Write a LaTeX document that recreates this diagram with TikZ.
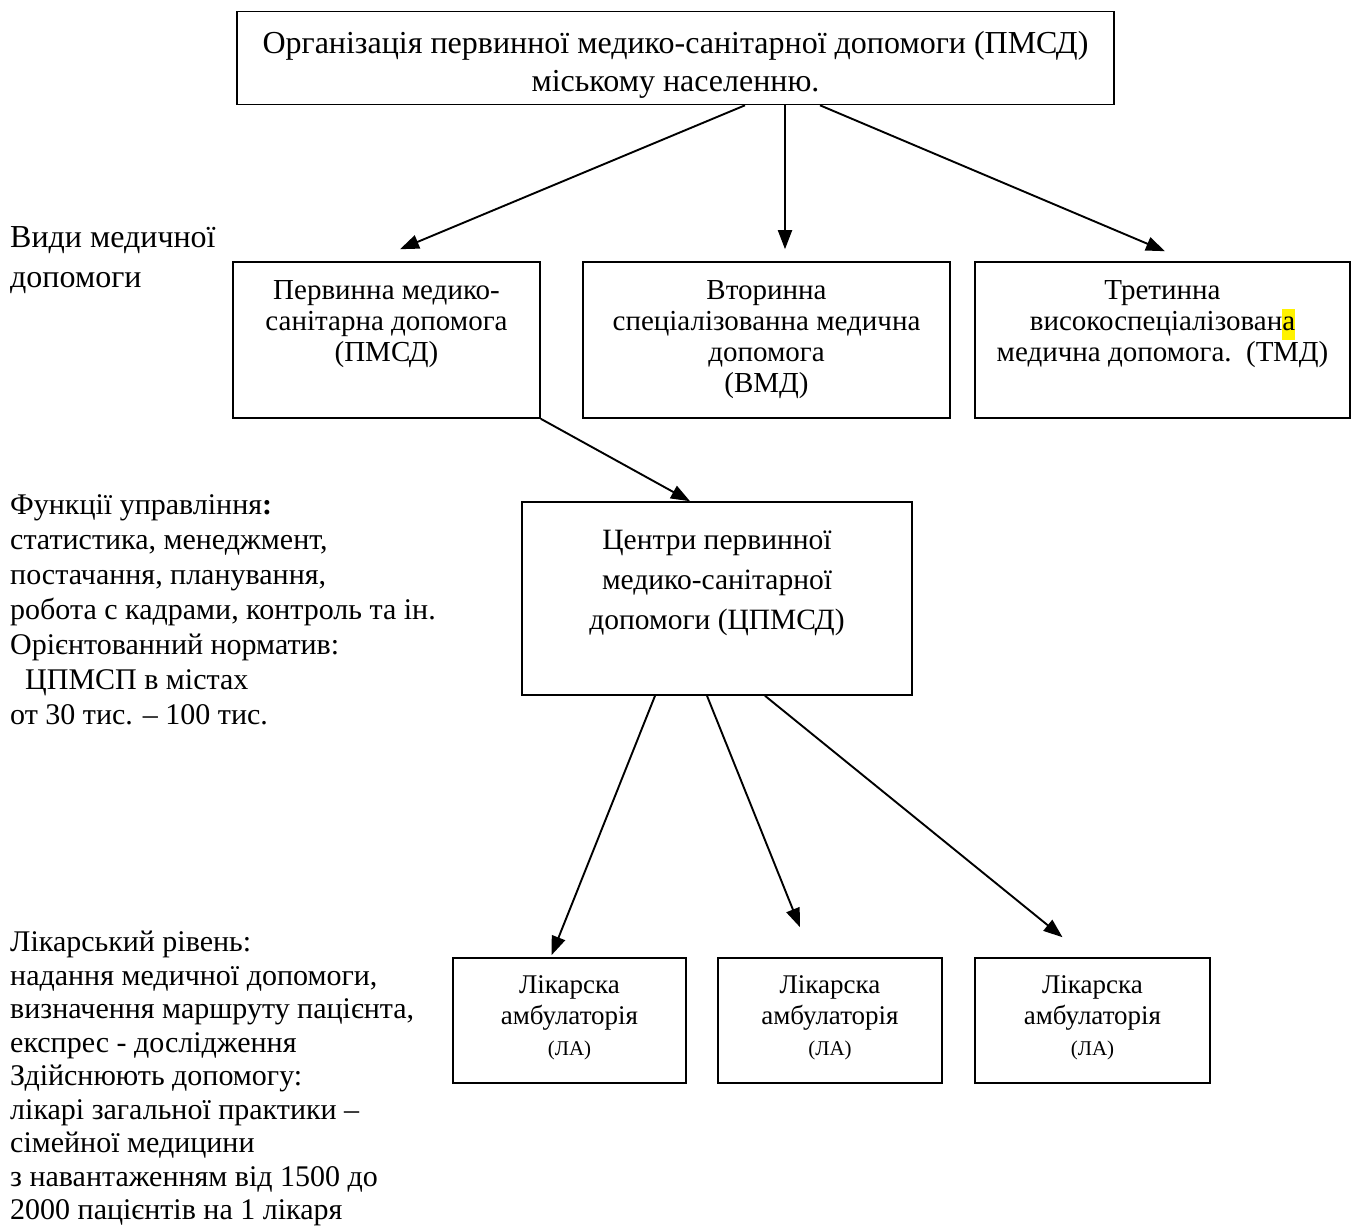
\documentclass[tikz,border=0pt]{standalone}
\usepackage{fontspec}
\setmainfont{Liberation Serif}
\usetikzlibrary{arrows.meta}
\newcommand{\hl}[1]{{\setlength{\fboxsep}{0pt}\colorbox{yellow}{\strut #1}}}
\begin{document}
\begin{tikzpicture}[x=1pt,y=-1pt,
  box/.style={draw, line width=1.6pt, rectangle, inner sep=0pt},
  txt/.style={inner sep=0pt, align=center, anchor=north},
  side/.style={inner sep=0pt, align=left, anchor=north west},
  arr/.style={line width=1.9pt, -{Triangle[length=19pt,width=14pt]}},
  ftitle/.style={font=\fontsize{32}{38}\selectfont},
  fmid/.style={font=\fontsize{29}{31}\selectfont},
  fside/.style={font=\fontsize{30}{35}\selectfont},
  fctr/.style={font=\fontsize{29.5}{40}\selectfont},
  fsmall/.style={font=\fontsize{27}{31}\selectfont}]
\useasboundingbox (0,0) rectangle (1351,1227);

% top box
\node[box, minimum width=877pt, minimum height=93pt] (top) at (675.5,58) {};
\node[inner sep=0pt, align=center, ftitle] (tt) at ([yshift=-7pt]top.center)
  {Організація первинної медико-санітарної допомоги (ПМСД)\\міському населенню.};

% level 2 boxes
\node[box, minimum width=307pt, minimum height=156pt] (b1) at (386.5,340) {};
\node[box, minimum width=367pt, minimum height=156pt] (b2) at (766.5,340) {};
\node[box, minimum width=375pt, minimum height=156pt] (b3) at (1162.5,340) {};
\node[txt, fmid] (t1) at ([yshift=-19pt]b1.north) {Первинна медико-\\санітарна допомога\\(ПМСД)};
\node[txt, fmid] (t2) at ([yshift=-19pt]b2.north) {Вторинна\\спеціалізованна медична\\допомога\\(ВМД)};
\node[txt, fmid] (t3) at ([yshift=-19pt]b3.north) {Третинна\\високоспеціалізован\hl{а}\\медична допомога.\ \ (ТМД)};

% center box
\node[box, minimum width=390pt, minimum height=193pt] (ctr) at (717,598.5) {};
\node[txt, fctr] (tc) at ([yshift=-29pt]ctr.north) {Центри первинної\\медико-санітарної\\допомоги (ЦПМСД)};

% bottom boxes
\node[box, minimum width=233pt, minimum height=125pt] (la1) at (569.5,1020.5) {};
\node[box, minimum width=224pt, minimum height=125pt] (la2) at (830,1020.5) {};
\node[box, minimum width=235pt, minimum height=125pt] (la3) at (1092.5,1020.5) {};
\foreach \n in {la1,la2,la3}{
  \node[txt, fsmall] (t\n) at ([yshift=-18pt]\n.north) {Лікарска\\амбулаторія\\{\fontsize{21}{30}\selectfont (ЛА)}};
}

% side texts
\node[side, font=\fontsize{32}{40}\selectfont] (s1) at (10,226) {Види медичної\\допомоги};
\node[side, fside] (s2) at (10,494) {Функції управління\textbf{:}\\статистика, менеджмент,\\постачання, планування,\\робота с кадрами, контроль та ін.\\Орієнтованний норматив:\\\ \ ЦПМСП в містах\\от 30 тис. – 100 тис.};
\node[side, font=\fontsize{30}{33.5}\selectfont] (s3) at (10,931) {Лікарський рівень:\\надання медичної допомоги,\\визначення маршруту пацієнта,\\експрес - дослідження\\Здійснюють допомогу:\\лікарі загальної практики –\\сімейної медицини\\з навантаженням від 1500 до\\2000 пацієнтів на 1 лікаря};

% arrows
\draw[arr] ([xshift=69.5pt]top.south) -- ([xshift=13.5pt,yshift=12pt]b1.north);
\draw[arr] ([xshift=109.5pt]top.south) -- ([xshift=18.5pt,yshift=12pt]b2.north);
\draw[arr] ([xshift=144.5pt]top.south) -- ([xshift=2.5pt,yshift=10pt]b3.north);
\draw[arr] (b1.south east) -- ([xshift=-27pt]ctr.north);
\draw[arr] ([xshift=-62pt]ctr.south) -- ([xshift=-18pt,yshift=2pt]la1.north);
\draw[arr] ([xshift=-10pt]ctr.south) -- ([xshift=-30pt,yshift=30pt]la2.north);
\draw[arr] ([xshift=48pt]ctr.south) -- ([xshift=-30pt,yshift=20pt]la3.north);
\end{tikzpicture}
\end{document}
